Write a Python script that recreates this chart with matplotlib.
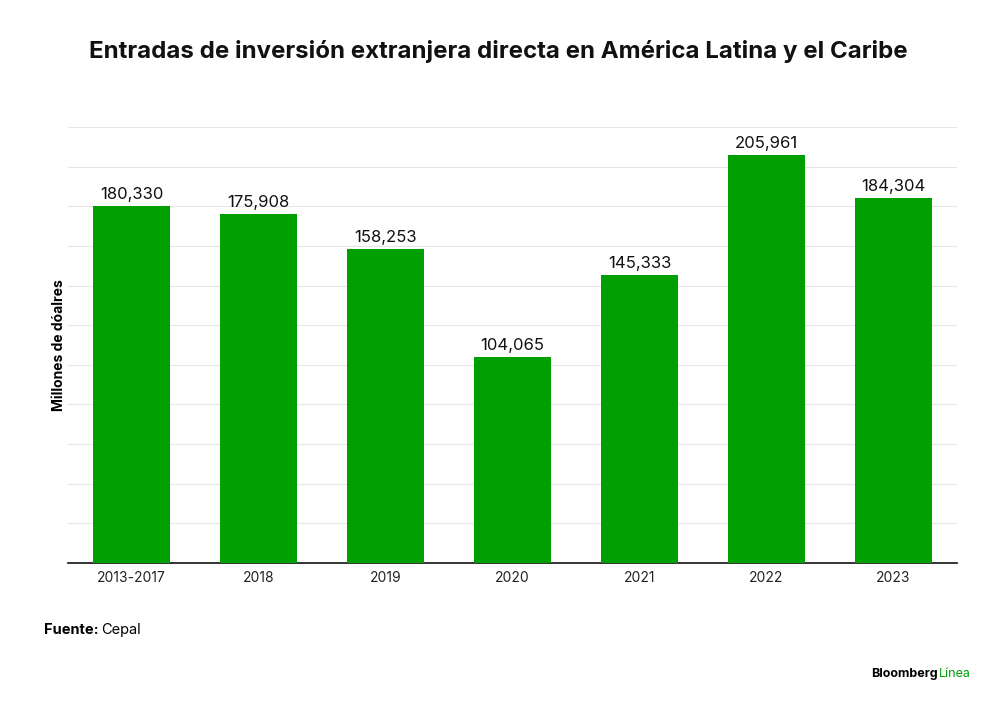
import matplotlib.pyplot as plt

plt.rcParams['font.family'] = ['Inter', 'DejaVu Sans']

categories = ['2013-2017', '2018', '2019', '2020', '2021', '2022', '2023']
values = [180330, 175908, 158253, 104065, 145333, 205961, 184304]

fig = plt.figure(figsize=(10, 7.04), dpi=100)
fig.patch.set_facecolor('white')
ax = fig.add_axes([0.068, 0.2003, 0.889, 0.6193])

x = range(len(categories))
bars = ax.bar(x, values, width=0.61, color='#00a000', zorder=3)
for xi, v in zip(x, values):
    ax.text(xi, v + 2000, f'{v:,}', ha='center', va='bottom', fontsize=12, color='#111111')

ax.set_xlim(-0.5, len(categories) - 0.5)
ax.set_ylim(0, 220000)
ax.set_yticks(range(0, 220001, 20000))
ax.set_yticklabels([])
ax.tick_params(axis='y', length=0)
ax.grid(axis='y', color='#e6e6e6', linewidth=0.8, zorder=0)
ax.set_xticks(list(x))
ax.set_xticklabels(categories, fontsize=10, color='#222222')
ax.tick_params(axis='x', length=0, pad=6)
for s in ['top', 'right', 'left']:
    ax.spines[s].set_visible(False)
ax.spines['bottom'].set_color('#111111')
ax.spines['bottom'].set_linewidth(1.2)

ax.set_ylabel('Millones de dóalres', fontsize=10, fontweight='bold', labelpad=-2)

fig.text(0.498, 0.927, 'Entradas de inversión extranjera directa en América Latina y el Caribe',
         ha='center', va='center', fontsize=17.3, fontweight='bold', color='#111111')
fig.text(0.044, 0.105, 'Fuente:', fontsize=10.5, fontweight='bold', va='center')
fig.text(0.101, 0.105, 'Cepal', fontsize=10.5, va='center')
fig.text(0.871, 0.043, 'Bloomberg', fontsize=9, fontweight='bold', va='center', ha='left')
fig.text(0.939, 0.043, 'Línea', fontsize=9, color='#00a000', va='center', ha='left')

fig.savefig('out.png', dpi=100)
